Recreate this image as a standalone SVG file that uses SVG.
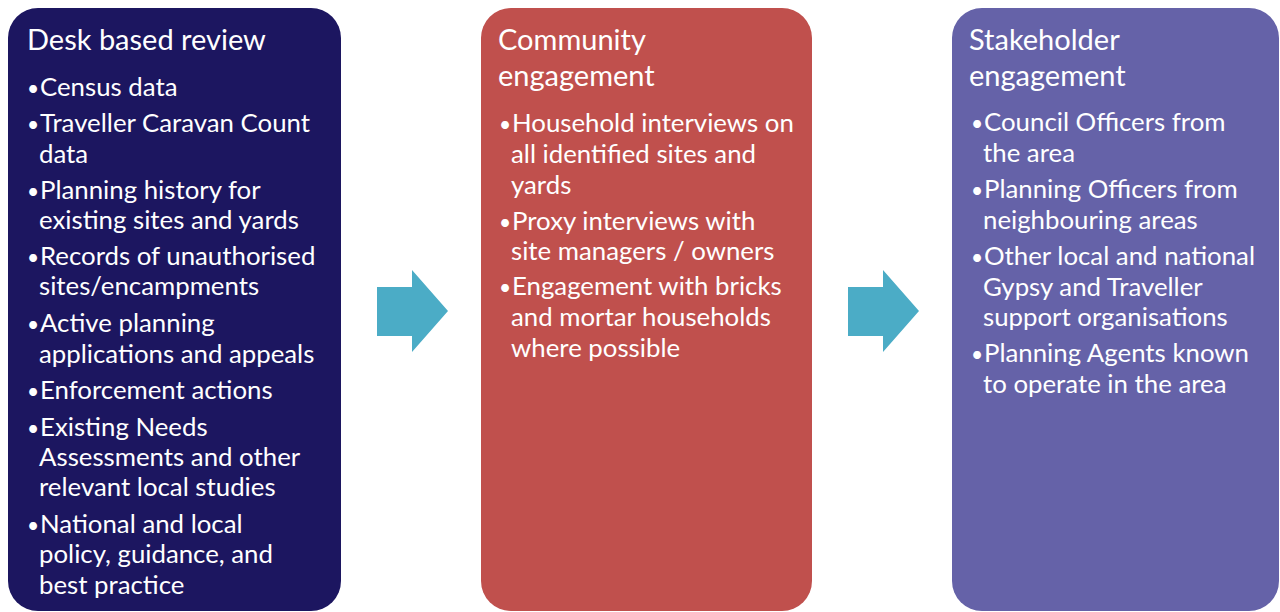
<svg xmlns="http://www.w3.org/2000/svg" width="1280" height="612" viewBox="0 0 1280 612">
<style>
.t{font-family:Lato,"Liberation Sans",sans-serif;fill:#ffffff;font-size:29px}
.b{font-family:Lato,"Liberation Sans",sans-serif;fill:#ffffff;font-size:25.8px}
.d{font-size:21px}
.arrow{fill:#4BACC6}
</style>
<rect width="1280" height="612" fill="#ffffff"/>
<g id="desk">
<rect x="8" y="8" width="333" height="603" rx="30" fill="#1C1660"/>
<text class="t" x="27" y="50">Desk based review</text>
<text class="b" y="96"><tspan class="d" x="27">•</tspan><tspan x="40">Census data</tspan></text>
<text class="b" y="132"><tspan class="d" x="27">•</tspan><tspan x="40">Traveller Caravan Count</tspan></text>
<text class="b" x="39" y="163">data</text>
<text class="b" y="199"><tspan class="d" x="27">•</tspan><tspan x="40">Planning history for</tspan></text>
<text class="b" x="39" y="229">existing sites and yards</text>
<text class="b" y="265"><tspan class="d" x="27">•</tspan><tspan x="40">Records of unauthorised</tspan></text>
<text class="b" x="39" y="295">sites/encampments</text>
<text class="b" y="332"><tspan class="d" x="27">•</tspan><tspan x="40">Active planning</tspan></text>
<text class="b" x="39" y="363">applications and appeals</text>
<text class="b" y="399"><tspan class="d" x="27">•</tspan><tspan x="40">Enforcement actions</tspan></text>
<text class="b" y="436"><tspan class="d" x="27">•</tspan><tspan x="40">Existing Needs</tspan></text>
<text class="b" x="39" y="466">Assessments and other</text>
<text class="b" x="39" y="496">relevant local studies</text>
<text class="b" y="533"><tspan class="d" x="27">•</tspan><tspan x="40">National and local</tspan></text>
<text class="b" x="39" y="563">policy, guidance, and</text>
<text class="b" x="39" y="594">best practice</text>
</g>
<g id="community">
<rect x="481" y="8" width="331" height="603" rx="30" fill="#C0504D"/>
<text class="t" x="498" y="50">Community</text>
<text class="t" x="498" y="86">engagement</text>
<text class="b" y="132"><tspan class="d" x="499">•</tspan><tspan x="512">Household interviews on</tspan></text>
<text class="b" x="511" y="163">all identified sites and</text>
<text class="b" x="511" y="194">yards</text>
<text class="b" y="230"><tspan class="d" x="499">•</tspan><tspan x="512">Proxy interviews with</tspan></text>
<text class="b" x="511" y="260">site managers / owners</text>
<text class="b" y="295"><tspan class="d" x="499">•</tspan><tspan x="512">Engagement with bricks</tspan></text>
<text class="b" x="511" y="326">and mortar households</text>
<text class="b" x="511" y="357">where possible</text>
</g>
<g id="stakeholder">
<rect x="952" y="8" width="327" height="603" rx="30" fill="#6562A8"/>
<text class="t" x="969" y="50">Stakeholder</text>
<text class="t" x="969" y="86">engagement</text>
<text class="b" y="131"><tspan class="d" x="971">•</tspan><tspan x="984">Council Officers from</tspan></text>
<text class="b" x="983" y="162">the area</text>
<text class="b" y="198"><tspan class="d" x="971">•</tspan><tspan x="984">Planning Officers from</tspan></text>
<text class="b" x="983" y="229">neighbouring areas</text>
<text class="b" y="265"><tspan class="d" x="971">•</tspan><tspan x="984">Other local and national</tspan></text>
<text class="b" x="983" y="296">Gypsy and Traveller</text>
<text class="b" x="983" y="326">support organisations</text>
<text class="b" y="362"><tspan class="d" x="971">•</tspan><tspan x="984">Planning Agents known</tspan></text>
<text class="b" x="983" y="393">to operate in the area</text>
</g>
<g id="connectors">
<polygon class="arrow" points="377,287 412,287 412,270 448,311 412,352 412,336 377,336"/>
<polygon class="arrow" points="848,287 883,287 883,270 919,311 883,352 883,336 848,336"/>
</g>
</svg>
